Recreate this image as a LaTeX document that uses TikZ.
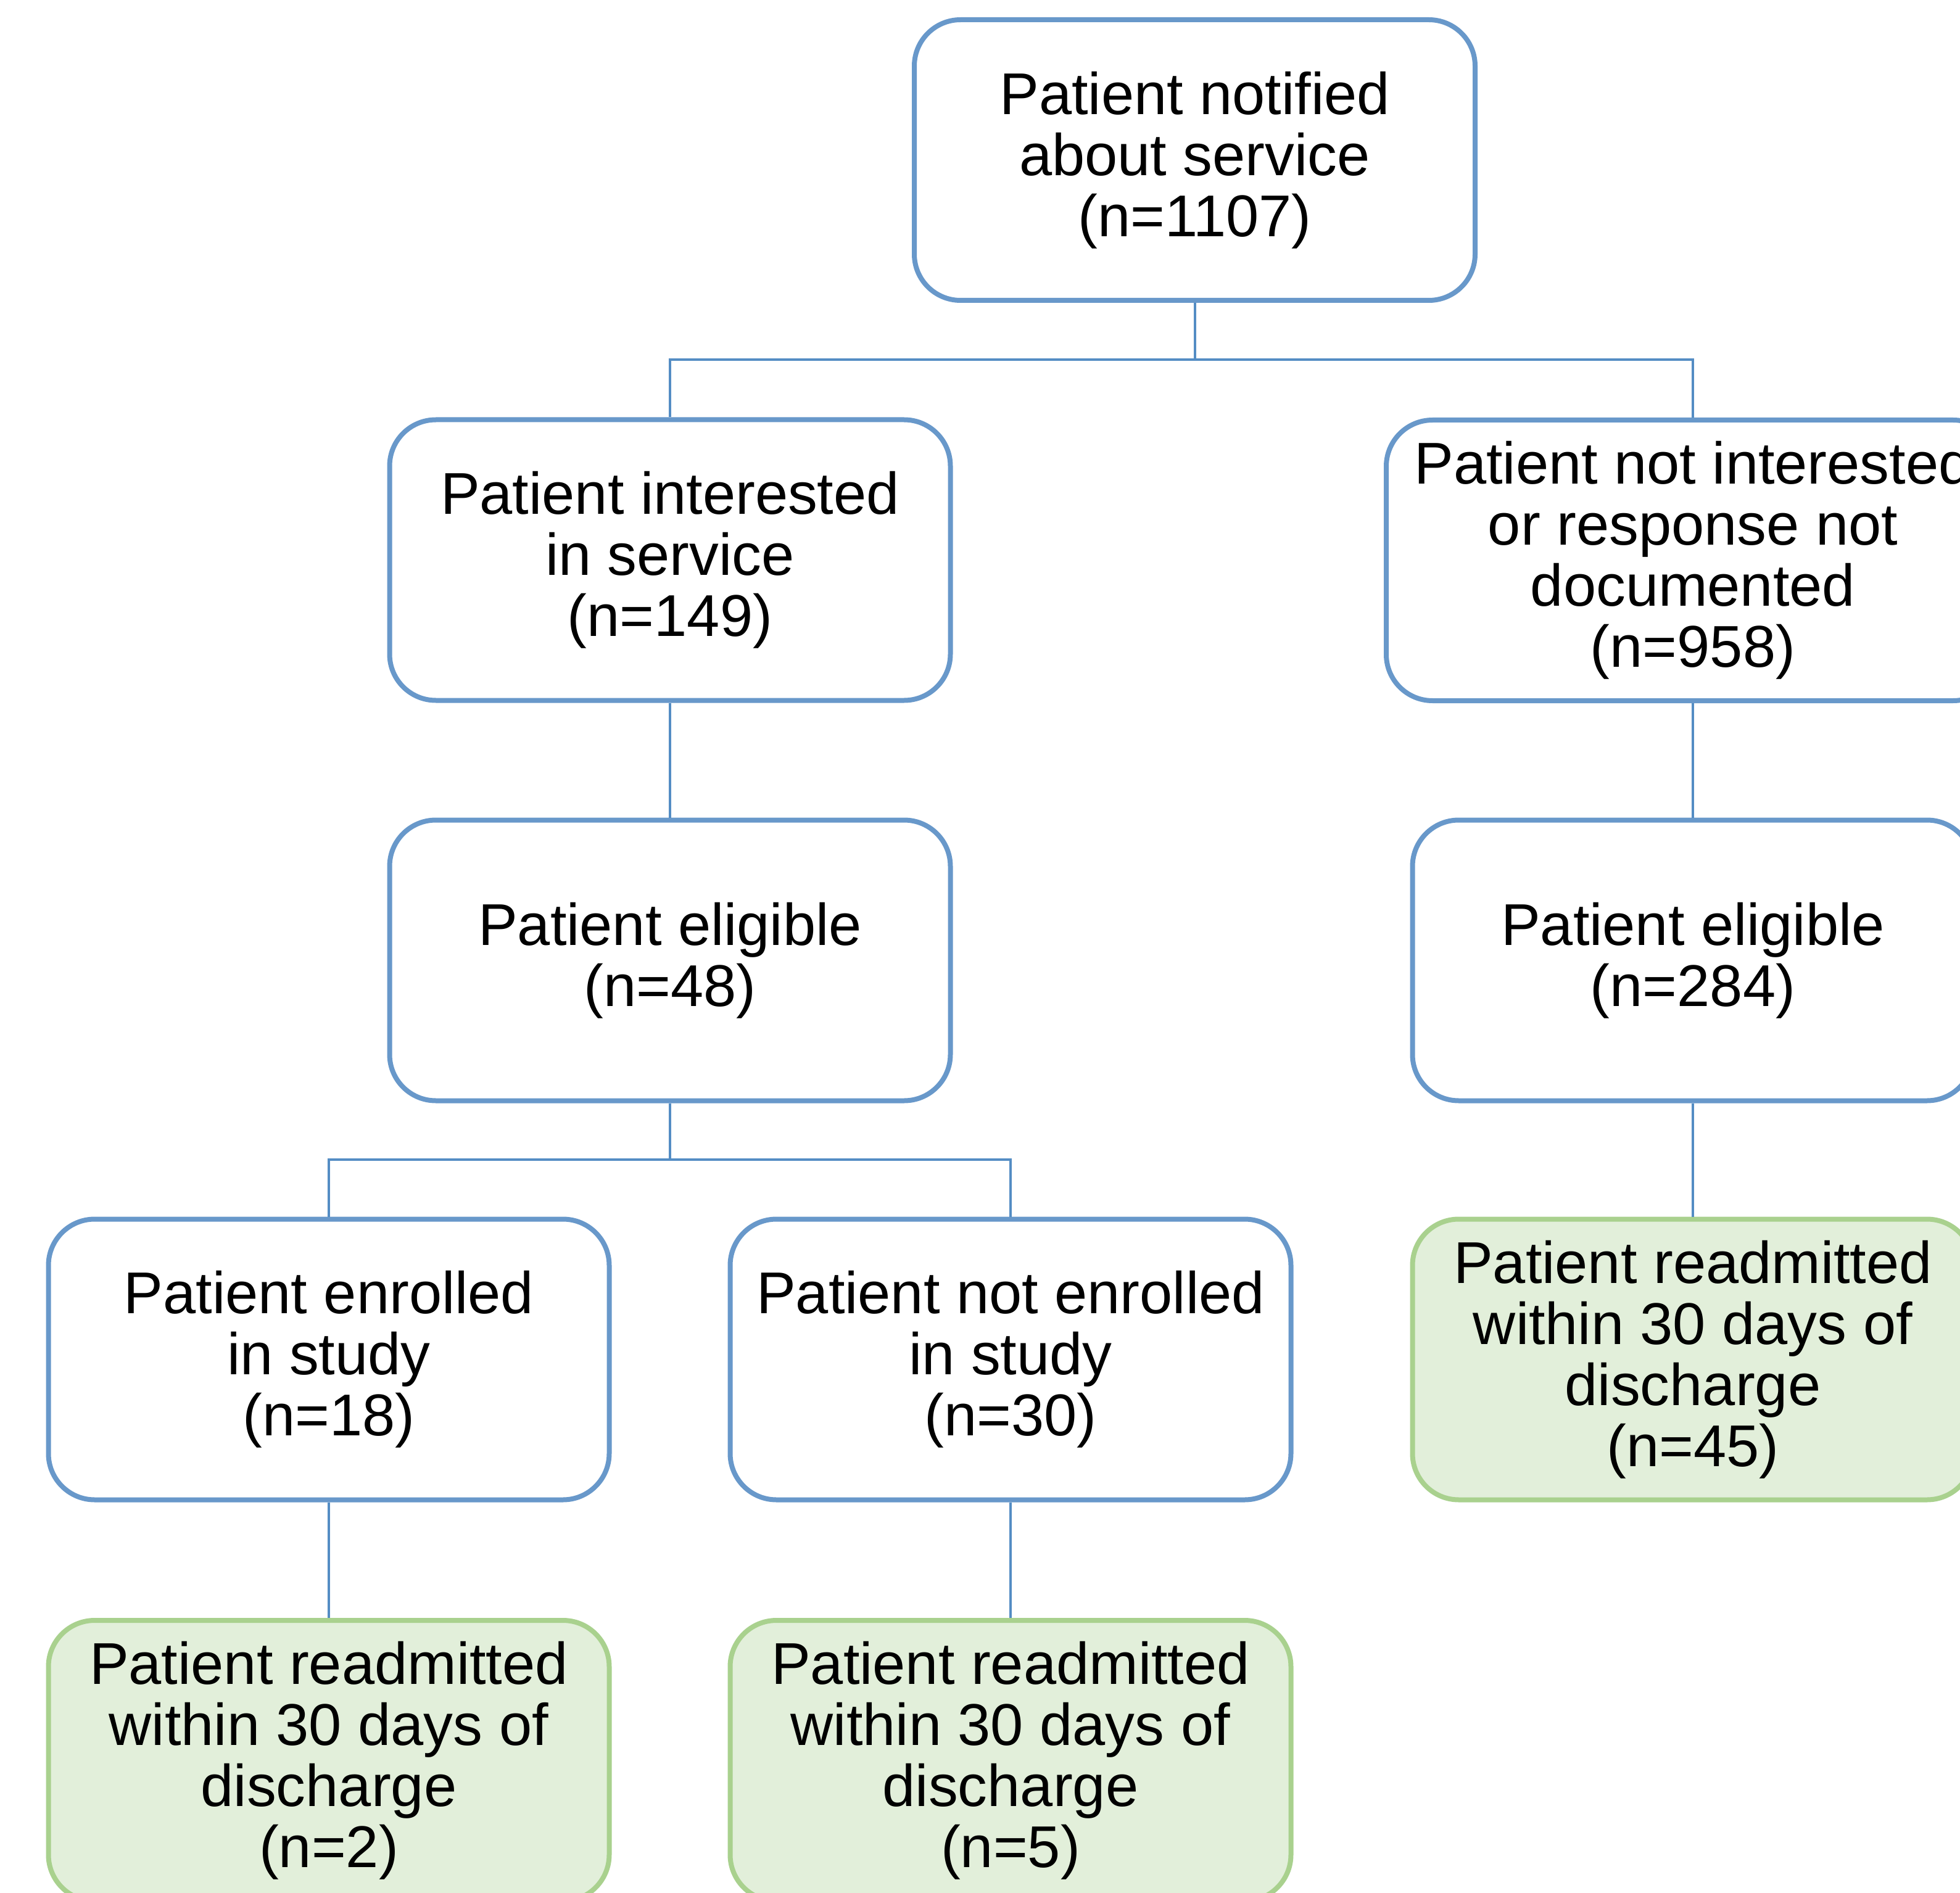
\documentclass[tikz,border=0pt]{standalone}
\usepackage{fontspec}
\setmainfont{Liberation Sans}
\usepackage{xcolor}
\definecolor{BoxBlue}{RGB}{104,152,202}
\definecolor{LinkBlue}{RGB}{84,141,196}
\definecolor{ResultGreen}{RGB}{169,209,142}
\definecolor{ResultFill}{RGB}{226,239,218}
\usepackage{tikz}
\usetikzlibrary{positioning}
\tikzset{
	flowbox/.style={draw=BoxBlue, line width=0.08cm, fill=white, rounded corners=0.75cm,
		minimum width=9.09cm, minimum height=4.55cm, inner sep=0pt, align=center,
		font=\fontsize{27.2}{28.2}\selectfont},
	resultbox/.style={flowbox, draw=ResultGreen, fill=ResultFill},
	link/.style={draw=LinkBlue, line width=0.04cm}
}

\begin{document}
\begin{tikzpicture}
	\clip (0,0) rectangle (31.77,-30.69);
	\fill[white] (0,0) rectangle (31.77,-30.69);
	\node[flowbox] (notified) at (19.365,-2.595) {Patient notified\\about service\\(n=1107)};
	\node[flowbox] (interested) at (10.86,-9.08) {Patient interested\\in service\\(n=149)};
	\node[flowbox, minimum width=9.94cm] (notinterested) at (27.44,-9.085) {Patient not interested\\or response not\\documented\\(n=958)};
	\node[flowbox] (eligibleA) at (10.86,-15.57) {Patient eligible\\(n=48)};
	\node[flowbox] (eligibleB) at (27.44,-15.57) {Patient eligible\\(n=284)};
	\node[flowbox] (enrolled) at (5.33,-22.04) {Patient enrolled\\in study\\(n=18)};
	\node[flowbox] (notenrolled) at (16.38,-22.04) {Patient not enrolled\\in study\\(n=30)};
	\node[resultbox] (readmitC) at (27.44,-22.04) {Patient readmitted\\within 30 days of\\discharge\\(n=45)};
	\node[resultbox] (readmitA) at (5.33,-28.545) {Patient readmitted\\within 30 days of\\discharge\\(n=2)};
	\node[resultbox] (readmitB) at (16.38,-28.545) {Patient readmitted\\within 30 days of\\discharge\\(n=5)};
	\coordinate (split1) at (19.365,-5.835);
	\coordinate (split2) at (10.86,-18.80);
	\draw[link] (notified.south) -- (split1);
	\draw[link] (interested.north) |- (split1) -| (notinterested.north);
	\draw[link] (interested.south) -- (eligibleA.north);
	\draw[link] (notinterested.south) -- (eligibleB.north);
	\draw[link] (eligibleB.south) -- (readmitC.north);
	\draw[link] (eligibleA.south) -- (split2);
	\draw[link] (enrolled.north) |- (split2) -| (notenrolled.north);
	\draw[link] (enrolled.south) -- (readmitA.north);
	\draw[link] (notenrolled.south) -- (readmitB.north);
\end{tikzpicture}
\end{document}
